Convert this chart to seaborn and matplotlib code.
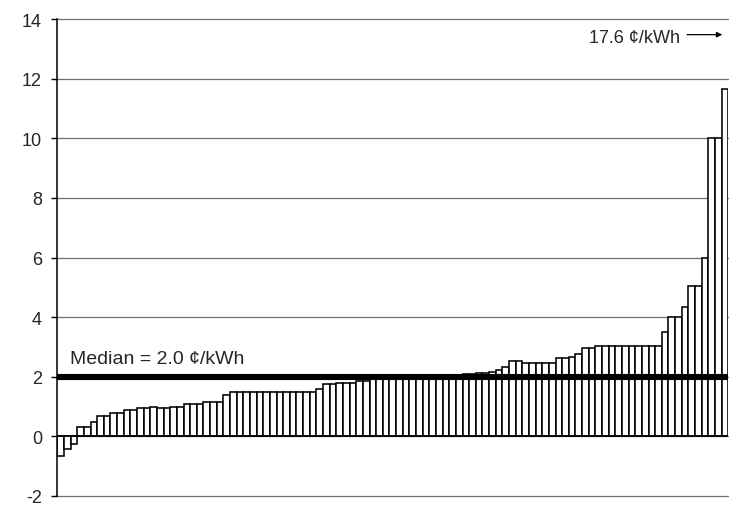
import numpy as np
import matplotlib
matplotlib.use('Agg')
import matplotlib.pyplot as plt
import seaborn as sns

# values, sorted low -> high (cents/kWh)
low_costs = [-0.66, -0.43, -0.26, 0.32, 0.32, 0.49, 0.68, 0.68, 0.78, 0.78,
             0.90, 0.90, 0.94, 0.94, 0.98, 0.96, 0.96, 1.00, 1.00, 1.07,
             1.07, 1.07, 1.15, 1.15, 1.15, 1.38]
mid_costs = [1.48] * 13 + [1.60, 1.75, 1.75, 1.78, 1.78, 1.78, 1.86, 1.86]
median_band = [1.95, 1.96, 1.98, 2.00, 2.00, 2.00, 2.00, 2.00, 2.00, 2.01,
               2.02, 2.03, 2.04, 2.06, 2.08, 2.10, 2.12, 2.13, 2.15]
high_costs = [2.23, 2.33, 2.52, 2.52, 2.47, 2.47, 2.47, 2.47, 2.47, 2.63,
              2.63, 2.66, 2.78, 2.97, 2.97] + [3.02] * 10
top_costs = [3.5, 4.0, 4.0, 4.34, 5.03, 5.03, 6.0, 10.0, 10.0, 11.64]

cost_cents = low_costs + mid_costs + median_band + high_costs + top_costs
plant_index = list(range(len(cost_cents)))

ytick_values = [-2, 0, 2, 4, 6, 8, 10, 12, 14]
ytick_labels = ['-2', '0', '2', '4', '6', '8', '10', '12', '14']
median_value = 2.0
median_label = 'Median = 2.0 \u00a2/kWh'
offscale_label = '17.6 \u00a2/kWh'

sns.set_style('white')
plt.rcParams['font.family'] = ['Liberation Sans', 'DejaVu Sans']
plt.rcParams['axes.unicode_minus'] = False

fig = plt.figure(figsize=(7.29, 5.10), dpi=100)
ax = fig.add_axes([0.0786, 0.0255, 0.9204, 0.935])

for y in ytick_values:
    ax.axhline(y, color='#6e6e6e', lw=0.9, zorder=0, clip_on=False)

sns.barplot(x=plant_index, y=cost_cents, color='white', saturation=1,
            edgecolor='black', linewidth=1.15, width=1.0, ax=ax, zorder=2)

ax.axhline(0, color='black', lw=1.1, zorder=3)
ax.axhline(median_value, color='black', lw=4.4, zorder=4)

n = len(cost_cents)
ax.set_xlim(-0.5, n - 0.5)
ax.set_ylim(-2, 14)
ax.set_yticks(ytick_values)
ax.set_yticklabels(ytick_labels)
ax.set_xticks([])
ax.set_xlabel('')
ax.set_ylabel('')
ax.tick_params(axis='y', direction='out', length=4, width=1, pad=7,
               labelsize=13, left=True, color='black')

for side in ['top', 'right', 'bottom']:
    ax.spines[side].set_visible(False)
ax.spines['left'].set_color('black')
ax.spines['left'].set_linewidth(1.1)

ax.text(1.4, 2.32, median_label, fontsize=14, ha='left', va='bottom', zorder=5)
ax.text(79.6, 13.4, offscale_label, fontsize=13, ha='left', va='center', zorder=5)
ax.annotate('', xy=(99.6, 13.48), xytext=(94.3, 13.48),
            arrowprops=dict(arrowstyle='-|>', color='black', lw=0.9,
                            mutation_scale=8, shrinkA=0, shrinkB=0))

fig.savefig('out.png', dpi=100)
